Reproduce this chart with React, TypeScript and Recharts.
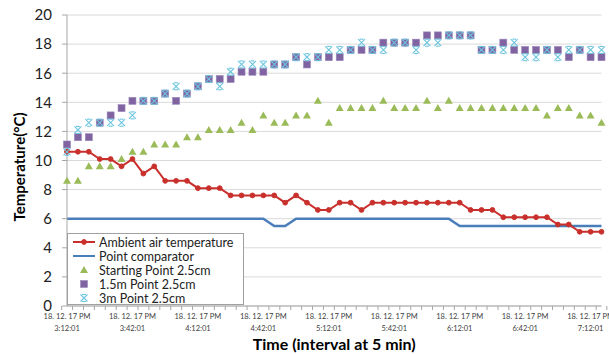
import { ComposedChart, Line, XAxis, YAxis, CartesianGrid, Label } from "recharts";

const times = [
  "3:12:01", "3:17:01", "3:22:01", "3:27:01", "3:32:01", "3:37:01",
  "3:42:01", "3:47:01", "3:52:01", "3:57:01", "4:02:01", "4:07:01",
  "4:12:01", "4:17:01", "4:22:01", "4:27:01", "4:32:01", "4:37:01",
  "4:42:01", "4:47:01", "4:52:01", "4:57:01", "5:02:01", "5:07:01",
  "5:12:01", "5:17:01", "5:22:01", "5:27:01", "5:32:01", "5:37:01",
  "5:42:01", "5:47:01", "5:52:01", "5:57:01", "6:02:01", "6:07:01",
  "6:12:01", "6:17:01", "6:22:01", "6:27:01", "6:32:01", "6:37:01",
  "6:42:01", "6:47:01", "6:52:01", "6:57:01", "7:02:01", "7:07:01",
  "7:12:01", "7:17:01",
];

const ambient = [
  10.6, 10.6, 10.6, 10.1, 10.1, 9.6, 10.1, 9.1, 9.6, 8.6,
  8.6, 8.6, 8.1, 8.1, 8.1, 7.6, 7.6, 7.6, 7.6, 7.6,
  7.1, 7.6, 7.1, 6.6, 6.6, 7.1, 7.1, 6.6, 7.1, 7.1,
  7.1, 7.1, 7.1, 7.1, 7.1, 7.1, 7.1, 6.6, 6.6, 6.6,
  6.1, 6.1, 6.1, 6.1, 6.1, 5.6, 5.6, 5.1, 5.1, 5.1,
];

const comparator = [
  6, 6, 6, 6, 6, 6, 6, 6, 6, 6,
  6, 6, 6, 6, 6, 6, 6, 6, 6, 5.5,
  5.5, 6, 6, 6, 6, 6, 6, 6, 6, 6,
  6, 6, 6, 6, 6, 6, 5.5, 5.5, 5.5, 5.5,
  5.5, 5.5, 5.5, 5.5, 5.5, 5.5, 5.5, 5.5, 5.5, 5.5,
];

const startingPoint = [
  8.6, 8.6, 9.6, 9.6, 9.6, 10.1, 10.6, 10.6, 11.1, 11.1,
  11.1, 11.6, 11.6, 12.1, 12.1, 12.1, 12.6, 12.1, 13.1, 12.6,
  12.6, 13.1, 13.1, 14.1, 12.6, 13.6, 13.6, 13.6, 13.6, 14.1,
  13.6, 13.6, 13.6, 14.1, 13.6, 14.1, 13.6, 13.6, 13.6, 13.6,
  13.6, 13.6, 13.6, 13.6, 13.1, 13.6, 13.6, 13.1, 13.1, 12.6,
];

const point15m = [
  11.1, 11.6, 11.6, 12.6, 13.1, 13.6, 14.1, 14.1, 14.1, 14.6,
  14.1, 14.6, 15.1, 15.6, 15.6, 15.6, 16.1, 16.1, 16.1, 16.6,
  16.6, 17.1, 16.6, 17.1, 17.1, 17.1, 17.6, 17.6, 17.6, 18.1,
  18.1, 18.1, 18.1, 18.6, 18.6, 18.6, 18.6, 18.6, 17.6, 17.6,
  18.1, 17.6, 17.6, 17.6, 17.6, 17.6, 17.1, 17.6, 17.1, 17.1,
];

const point3m = [
  10.6, 12.1, 12.6, 12.6, 12.6, 12.6, 13.1, 14.1, 14.1, 14.6,
  15.1, 14.6, 15.1, 15.6, 15.1, 16.1, 16.6, 16.6, 16.6, 16.6,
  16.6, 17.1, 17.1, 17.1, 17.6, 17.6, 17.6, 18.1, 17.6, 17.6,
  18.1, 18.1, 17.6, 18.1, 18.1, 18.6, 18.6, 18.6, 17.6, 17.6,
  17.6, 18.1, 17.1, 17.1, 17.6, 17.1, 17.6, 17.6, 17.6, 17.6,
];

const yTicks = [0, 2, 4, 6, 8, 10, 12, 14, 16, 18, 20];

const data = times.map((t, i) => ({
  time: t,
  ambient: ambient[i],
  comparator: comparator[i],
  start: startingPoint[i],
  p15: point15m[i],
  p3: point3m[i],
}));

const W = 609;
const H = 354;
const LEFT = 67;
const RIGHT = 7.5;
const BAND = (W - LEFT - RIGHT) / times.length;
const FONT = "Lato, 'Open Sans', sans-serif";

const RED = "#C9302C";
const BLUE = "#4A7EBB";
const GREEN = "#9BBB59";
const PURPLE = "#8064A2";
const CYAN = "#6CC5DF";

function Triangle({ cx, cy }: any) {
  return <path d={`M${cx},${cy - 4} L${cx + 4},${cy + 3} L${cx - 4},${cy + 3} Z`} fill={GREEN} />;
}

function Square({ cx, cy }: any) {
  return <rect x={cx - 3.5} y={cy - 3.5} width={7} height={7} fill={PURPLE} stroke="#9C88BC" strokeWidth={0.6} />;
}

function Star({ cx, cy }: any) {
  const s = 3.5;
  return (
    <g stroke={CYAN} strokeWidth={1.1} fill="none">
      <line x1={cx - s} y1={cy - s} x2={cx + s} y2={cy + s} />
      <line x1={cx - s} y1={cy + s} x2={cx + s} y2={cy - s} />
      <line x1={cx - 2} y1={cy - s} x2={cx + 2} y2={cy - s} />
      <line x1={cx - 2} y1={cy + s} x2={cx + 2} y2={cy + s} />
    </g>
  );
}

function RedDot({ cx, cy }: any) {
  return <circle cx={cx} cy={cy} r={2.4} fill={RED} stroke={RED} />;
}

// tick marks sit on category boundaries like Excel, labels every 30 min
function TimeTick({ x, y, index, payload }: any) {
  const half = BAND / 2;
  return (
    <g>
      <line x1={x - half} y1={y} x2={x - half} y2={y + 4} stroke="#A6A6A6" />
      {index === times.length - 1 && (
        <line x1={x + half} y1={y} x2={x + half} y2={y + 4} stroke="#A6A6A6" />
      )}
      {index % 6 === 0 && (
        <text textAnchor="middle" fontSize={7.5} fill="#404040" fontFamily={FONT}>
          <tspan x={x} y={y + 13}>18. 12. 17 PM</tspan>
          <tspan x={x} y={y + 25}>{payload.value}</tspan>
        </text>
      )}
    </g>
  );
}

const legendItems = [
  { name: "Ambient air temperature", kind: "red" },
  { name: "Point comparator", kind: "blue" },
  { name: "Starting Point 2.5cm", kind: "tri" },
  { name: "1.5m Point 2.5cm", kind: "sq" },
  { name: "3m Point 2.5cm", kind: "star" },
];

function LegendBox() {
  return (
    <div
      style={{
        position: "absolute",
        left: 67,
        top: 233,
        width: 177,
        height: 72,
        border: "1px solid #A0A0A0",
        background: "#fff",
        boxSizing: "border-box",
        padding: "1px 0 0 4px",
        fontFamily: FONT,
        fontSize: 12.5,
        color: "#222",
      }}
    >
      {legendItems.map((it) => (
        <div key={it.name} style={{ display: "flex", alignItems: "center", height: 14 }}>
          <svg width={24} height={14} style={{ flex: "none" }}>
            {it.kind === "red" && (
              <g>
                <line x1={1} y1={7} x2={23} y2={7} stroke={RED} strokeWidth={2} />
                <RedDot cx={12} cy={7} />
              </g>
            )}
            {it.kind === "blue" && <line x1={1} y1={7} x2={23} y2={7} stroke={BLUE} strokeWidth={2} />}
            {it.kind === "tri" && <Triangle cx={12} cy={7} />}
            {it.kind === "sq" && <Square cx={12} cy={7} />}
            {it.kind === "star" && <Star cx={12} cy={7} />}
          </svg>
          <span style={{ marginLeft: 3, whiteSpace: "nowrap" }}>{it.name}</span>
        </div>
      ))}
    </div>
  );
}

export default function App() {
  return (
    <div style={{ position: "absolute", left: 0, top: 0, width: W, height: H, background: "#fff" }}>
      <ComposedChart width={W} height={H} data={data} margin={{ top: 15, right: RIGHT, bottom: 0, left: 0 }}>
        <CartesianGrid vertical={false} stroke="#D9D9D9" />
        <XAxis
          dataKey="time"
          interval={0}
          height={48}
          tickSize={0}
          tickMargin={0}
          tickLine={false}
          stroke="#A6A6A6"
          tick={<TimeTick />}
        >
          <Label
            value="Time (interval at 5 min)"
            position="insideBottom"
            offset={4}
            style={{ fontFamily: FONT, fontSize: 16, fontWeight: 700, fill: "#000" }}
          />
        </XAxis>
        <YAxis
          width={LEFT}
          domain={[0, 20]}
          ticks={yTicks}
          interval={0}
          tickSize={5}
          tickMargin={10}
          stroke="#A6A6A6"
          tick={{ fontFamily: FONT, fontSize: 15, fill: "#222" }}
        >
          <Label
            content={() => (
              <text
                transform="translate(19,167) rotate(-90)"
                textAnchor="middle"
                dominantBaseline="central"
                fontFamily={FONT}
                fontSize={15}
                fontWeight={700}
                fill="#000"
              >
                Temperature(°C)
              </text>
            )}
          />
        </YAxis>
        <Line dataKey="comparator" stroke={BLUE} strokeWidth={2.5} dot={false} activeDot={false} isAnimationActive={false} />
        <Line
          dataKey="ambient"
          stroke={RED}
          strokeWidth={2}
          dot={(p: any) => <RedDot key={`a${p.index}`} cx={p.cx} cy={p.cy} />}
          activeDot={false}
          isAnimationActive={false}
        />
        <Line
          dataKey="start"
          stroke="none"
          dot={(p: any) => <Triangle key={`s${p.index}`} cx={p.cx} cy={p.cy} />}
          activeDot={false}
          isAnimationActive={false}
        />
        <Line
          dataKey="p15"
          stroke="none"
          dot={(p: any) => <Square key={`q${p.index}`} cx={p.cx} cy={p.cy} />}
          activeDot={false}
          isAnimationActive={false}
        />
        <Line
          dataKey="p3"
          stroke="none"
          dot={(p: any) => <Star key={`t${p.index}`} cx={p.cx} cy={p.cy} />}
          activeDot={false}
          isAnimationActive={false}
        />
      </ComposedChart>
      <LegendBox />
    </div>
  );
}
